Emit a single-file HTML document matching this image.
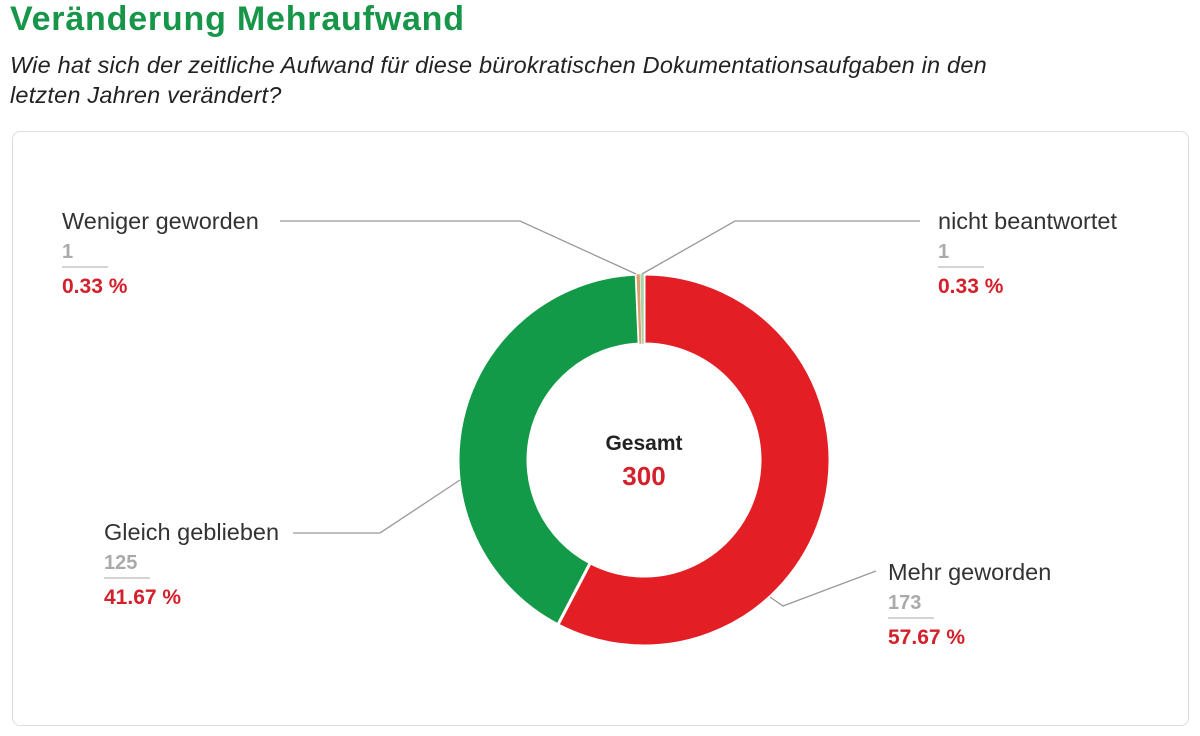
<!DOCTYPE html>
<html><head><meta charset="utf-8"><style>
body{margin:0;background:#fff;font-family:"Liberation Sans",sans-serif;width:1200px;height:736px;overflow:hidden;position:relative}
h1{position:absolute;left:10px;top:0px;margin:0;font-size:34px;font-weight:bold;color:#17964a;letter-spacing:0.8px}
.sub{position:absolute;left:10px;top:50px;width:1050px;font-size:23.5px;font-style:italic;color:#222;line-height:30px;letter-spacing:0.2px}
.card{position:absolute;left:12px;top:131px;width:1175px;height:593px;border:1px solid #ddd;border-radius:8px}
svg{position:absolute;left:0;top:0}
</style></head><body>
<h1>Veränderung Mehraufwand</h1>
<div class="sub">Wie hat sich der zeitliche Aufwand für diese bürokratischen Dokumentationsaufgaben in den<br>letzten Jahren verändert?</div>
<div class="card"></div>
<svg id="c" width="1200" height="736"></svg>
<script>
const categories=["Mehr geworden","Gleich geblieben","Weniger geworden","nicht beantwortet"];
const counts=[173,125,1,1];
const colors=["#e31e24","#139a48","#d9a06e","#a9d3a6"];
const labelPos=[[888,580,"start"],[104,540,"start"],[62,229,"start"],[938,229,"start"]];
const leaders=[[[876,571],[783,606],[770,597]],[[293,533],[380,533],[460,480]],[[280,221],[520,221],[636,274]],[[920,221],[735,221],[642,274]]];
const NS="http://www.w3.org/2000/svg",svg=document.getElementById('c');
const cx=644,cy=460,R=186,r=116;
const total=counts.reduce((a,b)=>a+b,0);
function pt(a,rad){return [cx+rad*Math.sin(a),cy-rad*Math.cos(a)];}
let a0=0;
counts.forEach((v,i)=>{
  const a1=a0+v/total*2*Math.PI;
  const p1=pt(a0,R),p2=pt(a1,R),p3=pt(a1,r),p4=pt(a0,r),lg=(a1-a0)>Math.PI?1:0;
  const p=document.createElementNS(NS,'path');
  p.setAttribute('d',`M${p1}A${R},${R} 0 ${lg} 1 ${p2}L${p3}A${r},${r} 0 ${lg} 0 ${p4}Z`);
  p.setAttribute('fill',colors[i]);p.setAttribute('stroke','#fff');p.setAttribute('stroke-width',i<2?3:0.5);
  
  
  svg.appendChild(p);
  a0=a1;
  const l=document.createElementNS(NS,'polyline');
  l.setAttribute('points',leaders[i].map(q=>q.join(',')).join(' '));
  l.setAttribute('fill','none');l.setAttribute('stroke','#999');l.setAttribute('stroke-width','1.3');
  
  
  svg.appendChild(l);
  const [x,y]=labelPos[i];
  const g=document.createElementNS(NS,'g');
  
  
  g.innerHTML=`<text x="${x}" y="${y}" font-size="23.5" fill="#333" font-weight="300">${categories[i]}</text>
<text x="${x}" y="${y+29}" font-size="20" fill="#aaa" font-weight="bold">${v}</text>
<line x1="${x}" x2="${x+46}" y1="${y+38}" y2="${y+38}" stroke="#aaa" stroke-width="1"/>
<text x="${x}" y="${y+64}" font-size="21" fill="#d3202a" font-weight="bold">${(v/total*100).toFixed(2)} %</text>`;
  svg.appendChild(g);
});
const t=document.createElementNS(NS,'g');


t.innerHTML=`<text x="${cx}" y="450" text-anchor="middle" font-size="21" font-weight="bold" fill="#222">Gesamt</text><text x="${cx}" y="485" text-anchor="middle" font-size="26" font-weight="bold" fill="#d3202a">${total}</text>`;
svg.appendChild(t);
</script>
</body></html>
